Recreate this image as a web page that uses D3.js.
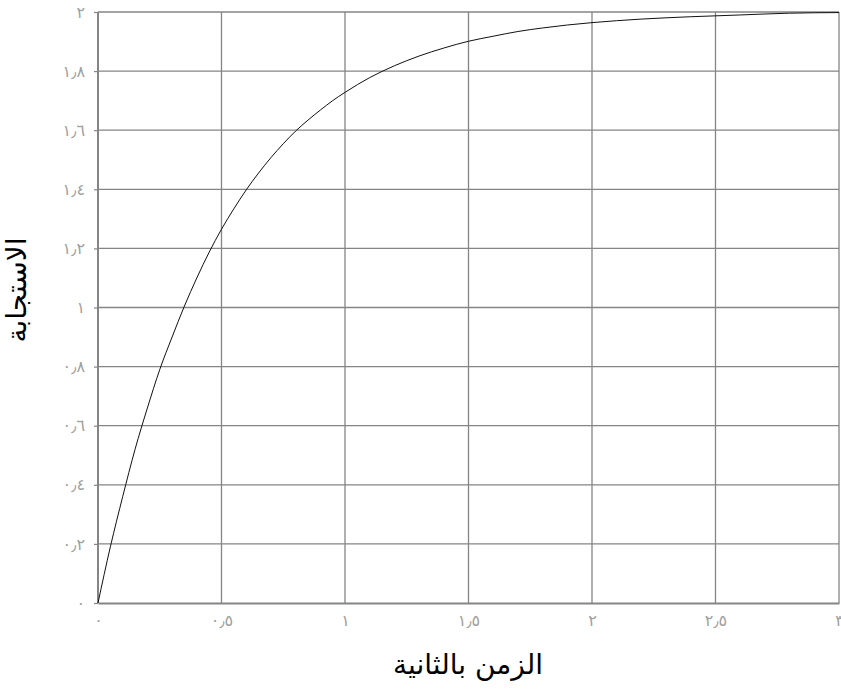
<!DOCTYPE html>
<html><head><meta charset="utf-8">
<script src="https://cdn.jsdelivr.net/npm/d3@7/dist/d3.min.js"></script>
<style>
body{margin:0;background:#fff;}
svg{display:block;font-family:"DejaVu Sans",Arial,sans-serif;}
</style></head>
<body><svg id="c" width="841" height="691"></svg>
<script>
const timeValues = [0,0.05,0.1,0.15,0.2,0.25,0.3,0.35,0.4,0.45,0.5,0.55,0.6,0.65,0.7,0.75,0.8,0.85,0.9,0.95,1.0,1.1,1.2,1.3,1.4,1.5,1.6,1.7,1.8,1.9,2.0,2.2,2.4,2.6,2.8,3.0];
const responseValues = [0,0.19,0.36,0.52,0.66,0.79,0.90,1.005,1.10,1.187,1.265,1.334,1.398,1.455,1.507,1.554,1.597,1.634,1.668,1.70,1.728,1.778,1.818,1.851,1.878,1.901,1.918,1.934,1.946,1.956,1.964,1.976,1.984,1.99,1.996,1.998];
const xTicks = [0,0.5,1,1.5,2,2.5,3];
const xTickLabels = ["٠","٠٫٥","١","١٫٥","٢","٢٫٥","٣"];
const yTicks = [0,0.2,0.4,0.6,0.8,1,1.2,1.4,1.6,1.8,2];
const yTickLabels = ["٠","٠٫٢","٠٫٤","٠٫٦","٠٫٨","١","١٫٢","١٫٤","١٫٦","١٫٨","٢"];
const xTitle = "الزمن بالثانية";
const yTitle = "الاستجابة";

const svg = d3.select("#c");
const L = 98, R = 839, T = 12, B = 603;
const x = d3.scaleLinear().domain([0,3]).range([L,R]);
const y = d3.scaleLinear().domain([0,2]).range([B,T]);
const grid = "#858585";

// grid
svg.append("g").selectAll("line").data(xTicks.slice(1)).join("line")
  .attr("x1",d=>x(d)).attr("x2",d=>x(d)).attr("y1",T).attr("y2",B)
  .attr("stroke",grid).attr("stroke-width",1.3);
svg.append("g").selectAll("line").data(yTicks.slice(1)).join("line")
  .attr("x1",L).attr("x2",R).attr("y1",d=>y(d)).attr("y2",d=>y(d))
  .attr("stroke",grid).attr("stroke-width",1.3);

// axes
const xAxis = d3.axisBottom(x).tickValues(xTicks).tickFormat((d,i)=>xTickLabels[i]).tickSize(0).tickPadding(12);
const gx = svg.append("g").attr("transform",`translate(0,${B})`).call(xAxis);
gx.select(".domain").attr("stroke",grid).attr("stroke-width",2);
gx.selectAll("text").attr("fill","#a0a0a0").attr("font-size",16).attr("font-family","DejaVu Sans");

const yAxis = d3.axisLeft(y).tickValues(yTicks).tickFormat((d,i)=>yTickLabels[i]).tickSize(4).tickPadding(9);
const gy = svg.append("g").attr("transform",`translate(${L},0)`).call(yAxis);
gy.select(".domain").attr("stroke",grid).attr("stroke-width",2).attr("d",`M0,${T}V${B}`);
gy.selectAll(".tick line").attr("stroke",grid).attr("stroke-width",1.2);
gy.selectAll("text").attr("fill","#a0a0a0").attr("font-size",16).attr("font-family","DejaVu Sans");

// curve
const line = d3.line().x((d,i)=>x(timeValues[i])).y(d=>y(d)).curve(d3.curveMonotoneX);
svg.append("path").datum(responseValues).attr("d",line)
  .attr("fill","none").attr("stroke","#111").attr("stroke-width",1);

// titles
svg.append("text").attr("x",468).attr("y",674).attr("text-anchor","middle")
  .attr("font-size",28).attr("fill","#000").attr("direction","rtl").text(xTitle);
svg.append("text").attr("transform","translate(26,290) rotate(-90)").attr("text-anchor","middle")
  .attr("font-size",28).attr("fill","#000").attr("direction","rtl").text(yTitle);
</script></body></html>
